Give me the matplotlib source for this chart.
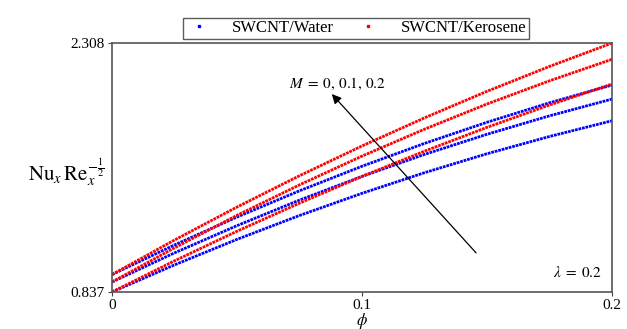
import numpy as np
import matplotlib.pyplot as plt

plt.rcParams["font.family"] = ["Liberation Serif", "DejaVu Serif"]
plt.rcParams["mathtext.fontset"] = "stix"

# === Data ===
phi = [0, 0.025, 0.05, 0.075, 0.1, 0.125, 0.15, 0.175, 0.2]

# SWCNT/Water, M = 0, 0.1, 0.2
water_m0 = [0.837, 0.997, 1.148, 1.289, 1.420, 1.542, 1.654, 1.756, 1.849]
water_m1 = [0.896, 1.068, 1.229, 1.380, 1.520, 1.650, 1.769, 1.878, 1.977]
water_m2 = [0.940, 1.115, 1.280, 1.435, 1.580, 1.715, 1.840, 1.955, 2.060]

# SWCNT/Kerosene, M = 0, 0.1, 0.2
kero_m0 = [0.837, 1.021, 1.196, 1.362, 1.520, 1.669, 1.810, 1.942, 2.066]
kero_m1 = [0.896, 1.098, 1.290, 1.470, 1.640, 1.799, 1.948, 2.085, 2.212]
kero_m2 = [0.940, 1.144, 1.339, 1.524, 1.700, 1.866, 2.023, 2.170, 2.308]

x_ticks = [0, 0.1, 0.2]
x_tick_labels = ["0", "0.1", "0.2"]
y_ticks = [0.837, 2.308]
y_tick_labels = ["0.837", "2.308"]

fig = plt.figure(figsize=(6.27, 3.29), dpi=100)
ax = fig.add_axes([0.1786, 0.1125, 0.7974, 0.7565])

dots = (0, (1, 0.3))
for i, ys in enumerate([water_m0, water_m1, water_m2]):
    ax.plot(phi, ys, color="blue", lw=2, ls=dots,
            label="SWCNT/Water" if i == 0 else None)
for i, ys in enumerate([kero_m0, kero_m1, kero_m2]):
    ax.plot(phi, ys, color="red", lw=2, ls=dots,
            label="SWCNT/Kerosene" if i == 0 else None)

ax.set_xlim(0, 0.2)
ax.set_ylim(0.837, 2.308)
ax.set_xticks(x_ticks)
ax.set_xticklabels(x_tick_labels)
ax.set_yticks(y_ticks)
ax.set_yticklabels(y_tick_labels)
ax.tick_params(labelsize=11, length=3, color="#444444", pad=2)
for s in ax.spines.values():
    s.set_color("#555555")
    s.set_linewidth(1.2)

ax.set_xlabel(r"$\phi$", fontsize=12, labelpad=-1)
fig.text(0.105, 0.478, r"$\mathrm{Nu}_x\,\mathrm{Re}_x^{-\frac{1}{2}}$",
         fontsize=15, ha="center", va="center")

ax.annotate("", xy=(0.0872, 2.019), xytext=(0.1464, 1.056),
            arrowprops=dict(arrowstyle="-|>", color="black", lw=0.9,
                            mutation_scale=14))
ax.text(0.0904, 2.066, r"$M\;=\;0,\,0.1,\,0.2$", fontsize=11,
        ha="center", va="center")
ax.text(0.186, 0.955, r"$\lambda\;=\;0.2$", fontsize=11,
        ha="center", va="center")

leg = fig.legend(loc="upper center", bbox_to_anchor=(0.568, 0.972), ncol=2,
                 fontsize=12, frameon=True, fancybox=False, handlelength=1.6,
                 columnspacing=1.2, borderpad=0.15, handletextpad=1.2)
leg.get_frame().set_edgecolor("#333333")
leg.get_frame().set_linewidth(1.0)
for h in leg.legend_handles:
    h.set_linestyle("none")
    h.set_marker("s")
    h.set_markersize(1.8)

fig.savefig("out.png", dpi=100)
